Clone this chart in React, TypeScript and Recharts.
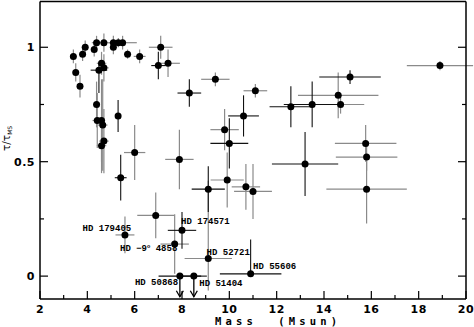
import React from 'react';
import { ScatterChart, Scatter, XAxis, YAxis, ErrorBar, ReferenceLine } from 'recharts';

// Stars whose error bars are drawn in black
const blackMass = [4.49, 5.30, 5.41, 7.00, 8.31, 10.60, 10.00, 12.60, 13.50, 15.10, 13.20, 9.11, 8.00, 10.90];
const blackTau = [0.90, 0.70, 0.43, 0.92, 0.80, 0.70, 0.58, 0.74, 0.75, 0.87, 0.49, 0.38, 0.20, 0.01];
const blackMassErr = [0.35, 0.10, 0.25, 0.30, 0.50, 0.65, 0.80, 0.90, 1.20, 1.30, 1.40, 0.70, 0.60, 1.30];
const blackTauErr: (number | number[])[] = [[0.10, 0.03], 0.07, 0.10, 0.06, 0.06, 0.09, 0.11, 0.09, 0.10, 0.03, 0.14, 0.10, 0.08, [0, 0.15]];

// Stars whose error bars are drawn in grey
const grayMass = [3.41, 3.51, 3.69, 3.80, 3.91, 4.29, 4.39, 4.70, 5.10, 5.31, 5.49, 5.10, 5.70, 6.21, 4.60, 4.70, 4.39, 4.42, 4.60, 4.65, 4.70, 4.60, 6.00, 7.89, 7.10, 7.41, 9.41, 11.10, 9.80, 14.70, 14.60, 18.90, 15.76, 15.80, 15.80, 9.91, 10.70, 11.00, 6.89, 7.69, 5.59, 9.11];
const grayTau = [0.96, 0.89, 0.83, 0.97, 1.00, 0.99, 1.02, 1.02, 1.02, 1.02, 1.02, 1.00, 0.97, 0.96, 0.93, 0.91, 0.75, 0.68, 0.68, 0.66, 0.59, 0.57, 0.54, 0.51, 1.00, 0.93, 0.86, 0.81, 0.64, 0.75, 0.79, 0.92, 0.58, 0.52, 0.38, 0.42, 0.39, 0.37, 0.265, 0.14, 0.18, 0.077];
const grayMassErr = [0.12, 0.10, 0.10, 0.10, 0.12, 0.10, 0.20, 0.20, 0.20, 0.15, 0.60, 0.10, 0.15, 0.25, 0.20, 0.20, 0.10, 0.20, 0.15, 0.20, 0.20, 0.20, 0.45, 0.60, 0.50, 0.50, 0.60, 0.50, 0.60, 1.00, 1.70, 1.40, 1.30, 1.30, 1.70, 0.70, 0.60, 0.80, 0.78, 0.60, 0.40, 1.00];
const grayTauErr: (number | number[])[] = [0.03, 0.04, 0.05, 0.03, 0.03, 0.03, 0.03, 0.04, 0.03, 0.02, 0.03, 0.03, 0.02, 0.03, 0.05, 0.06, 0.10, 0.12, 0.18, 0.20, 0.14, 0.12, 0.12, 0.13, 0.05, 0.06, 0.03, 0.03, 0.09, 0.04, 0.10, 0.02, 0.08, 0.06, 0.15, 0.12, 0.10, 0.12, 0.10, 0.13, 0.08, [0.14, 0.34]];

// Upper limits (arrows)
const limitMass = [7.91, 8.50];
const limitTau = [0.0, 0.0];
const limitMassErr = [0.90, 0.55];
const limitArrowLength = 0.09;

// Star name annotations
const labelNames = ['HD 179405', 'HD \u22129\u00B0 4858', 'HD 174571', 'HD 52721', 'HD 50868', 'HD 51404', 'HD 55606'];
const labelMass = [3.80, 5.38, 7.96, 9.04, 6.01, 8.73, 11.0];
const labelTau = [0.206, 0.117, 0.237, 0.103, -0.032, -0.035, 0.039];

// Axes
const xTicks = [2, 3, 4, 5, 6, 7, 8, 9, 10, 11, 12, 13, 14, 15, 16, 17, 18, 19, 20];
const xMajor = [2, 4, 6, 8, 10, 12, 14, 16, 18, 20];
const yTicks = [0, 0.25, 0.5, 0.75, 1];
const yMajor = [0, 0.5, 1];
const xDomain = [2, 20];
const yDomain = [-0.1, 1.2];

const build = (m: number[], t: number[], em: number[], et: (number | number[])[]) =>
  m.map((x, i) => ({ x, y: t[i], ex: em[i], ey: et[i] }));

const blackData = build(blackMass, blackTau, blackMassErr, blackTauErr);
const grayData = build(grayMass, grayTau, grayMassErr, grayTauErr);
const limitData = limitMass.map((x, i) => ({ x, y: limitTau[i], ex: limitMassErr[i] }));
const labelData = labelNames.map((name, i) => ({ x: labelMass[i], y: labelTau[i], name }));

const TICK_FONT = 'DejaVu Sans, sans-serif';
const MAJOR = 8;
const MINOR = 4;

const BottomTick = (p: any) => {
  const major = xMajor.includes(p.payload.value);
  return (
    <g>
      <line x1={p.x} x2={p.x} y1={p.y} y2={p.y - (major ? MAJOR : MINOR)} stroke="#000" strokeWidth={1.2} />
      {major && (
        <text x={p.x} y={p.y + 13.5} textAnchor="middle" fontFamily={TICK_FONT} fontWeight="bold" fontSize={11} letterSpacing={0.5} fill="#000">
          {p.payload.value}
        </text>
      )}
    </g>
  );
};

const TopTick = (p: any) => {
  const major = xMajor.includes(p.payload.value);
  return <line x1={p.x} x2={p.x} y1={p.y} y2={p.y + (major ? MAJOR : MINOR)} stroke="#000" strokeWidth={1.2} />;
};

const LeftTick = (p: any) => {
  const major = yMajor.includes(p.payload.value);
  return (
    <g>
      <line x1={p.x} x2={p.x + (major ? MAJOR : MINOR)} y1={p.y} y2={p.y} stroke="#000" strokeWidth={1.2} />
      {major && (
        <text x={p.x - 5} y={p.y + 4} textAnchor="end" fontFamily={TICK_FONT} fontWeight="bold" fontSize={11} letterSpacing={0.5} fill="#000">
          {p.payload.value}
        </text>
      )}
    </g>
  );
};

const RightTick = (p: any) => {
  const major = yMajor.includes(p.payload.value);
  return <line x1={p.x} x2={p.x - (major ? MAJOR : MINOR)} y1={p.y} y2={p.y} stroke="#000" strokeWidth={1.2} />;
};

const XTitle = (p: any) => {
  const vb = p.viewBox || { x: 40, y: 299, width: 426, height: 28 };
  return (
    <text x={vb.x + 175} y={vb.y + 26} textAnchor="start" fontFamily="DejaVu Sans Mono, monospace" fontWeight="bold" fontSize={10.5} letterSpacing={4.2} fill="#000" style={{ whiteSpace: 'pre' }}>
      {'Mass  (Msun)'}
    </text>
  );
};

const YTitle = () => {
  const cx = 10;
  const cy = 151;
  return (
    <text x={cx} y={cy} transform={`rotate(-90, ${cx}, ${cy})`} textAnchor="start" fontFamily="DejaVu Sans, sans-serif" fontSize={10.5} fill="#000">
      {'\u03C4/\u03C4'}
      <tspan fontSize={6} dy={2}>MS</tspan>
    </text>
  );
};

const Dot = (p: any) => <circle cx={p.cx} cy={p.cy} r={3.5} fill="#000" />;

const LabelShape = (p: any) => {
  const parts = String(p.payload.name).split('\u00B0');
  return (
    <text x={p.cx} y={p.cy} dominantBaseline="central" textAnchor="start" fontFamily="Liberation Mono, monospace" fontWeight="bold" fontSize={9} fill="#000" style={{ whiteSpace: 'pre' }}>
      {parts[0]}
      {parts.length > 1 && (
        <>
          <tspan fontSize={5.5} dy={-3}>o</tspan>
          <tspan dy={3}>{parts[1]}</tspan>
        </>
      )}
    </text>
  );
};

const Arrow = (p: any) => {
  const { x1, y1, x2, y2 } = p;
  if (x1 == null) return <g />;
  return (
    <g>
      <line x1={x1} y1={y1} x2={x2} y2={y2} stroke="#000" strokeWidth={1.3} />
      <path d={`M ${x2 - 3.5} ${y2 - 6} L ${x2} ${y2} L ${x2 + 3.5} ${y2 - 6}`} fill="none" stroke="#000" strokeWidth={1.3} />
    </g>
  );
};

const GRAY = '#8a8a8a';
const BLACK = '#111';

export default function App() {
  return (
    <div style={{ position: 'absolute', left: 0, top: 0 }}>
      <ScatterChart width={474} height={327} margin={{ top: 0.5, right: 7, bottom: 0, left: 0 }}>
        <XAxis
          xAxisId="b"
          type="number"
          dataKey="x"
          orientation="bottom"
          domain={xDomain}
          ticks={xTicks}
          interval={0}
          allowDataOverflow
          height={28}
          tickSize={0}
          tickMargin={0}
          tickLine={false}
          tick={<BottomTick />}
          axisLine={{ stroke: '#000', strokeWidth: 1.5 }}
          label={<XTitle />}
        />
        <XAxis
          xAxisId="t"
          type="number"
          orientation="top"
          domain={xDomain}
          ticks={xTicks}
          interval={0}
          allowDataOverflow
          height={1}
          tickSize={0}
          tickMargin={0}
          tickLine={false}
          tick={<TopTick />}
          axisLine={{ stroke: '#000', strokeWidth: 1.5 }}
        />
        <YAxis
          yAxisId="l"
          type="number"
          dataKey="y"
          orientation="left"
          domain={yDomain}
          ticks={yTicks}
          interval={0}
          allowDataOverflow
          width={40}
          tickSize={0}
          tickMargin={0}
          tickLine={false}
          tick={<LeftTick />}
          axisLine={{ stroke: '#000', strokeWidth: 1.5 }}
          label={<YTitle />}
        />
        <YAxis
          yAxisId="r"
          type="number"
          orientation="right"
          domain={yDomain}
          ticks={yTicks}
          interval={0}
          allowDataOverflow
          width={1}
          tickSize={0}
          tickMargin={0}
          tickLine={false}
          tick={<RightTick />}
          axisLine={{ stroke: '#000', strokeWidth: 1.5 }}
        />
        <Scatter xAxisId="b" yAxisId="l" data={grayData} dataKey="y" shape={<Dot />} isAnimationActive={false}>
          <ErrorBar dataKey="ex" direction="x" width={0} stroke={GRAY} strokeWidth={1.2} isAnimationActive={false} />
          <ErrorBar dataKey="ey" direction="y" width={0} stroke={GRAY} strokeWidth={1.2} isAnimationActive={false} />
        </Scatter>
        <Scatter xAxisId="b" yAxisId="l" data={blackData} dataKey="y" shape={<Dot />} isAnimationActive={false}>
          <ErrorBar dataKey="ex" direction="x" width={0} stroke={BLACK} strokeWidth={1.1} isAnimationActive={false} />
          <ErrorBar dataKey="ey" direction="y" width={0} stroke={BLACK} strokeWidth={1.1} isAnimationActive={false} />
        </Scatter>
        <Scatter xAxisId="b" yAxisId="l" data={limitData} dataKey="y" shape={<Dot />} isAnimationActive={false}>
          <ErrorBar dataKey="ex" direction="x" width={0} stroke={BLACK} strokeWidth={1.1} isAnimationActive={false} />
        </Scatter>
        {limitData.map((d, i) => (
          <ReferenceLine
            key={i}
            xAxisId="b"
            yAxisId="l"
            segment={[{ x: d.x, y: d.y }, { x: d.x, y: d.y - limitArrowLength }]}
            shape={(p: any) => <Arrow {...p} />}
          />
        ))}
        <Scatter xAxisId="b" yAxisId="l" data={labelData} dataKey="y" shape={<LabelShape />} isAnimationActive={false} />
      </ScatterChart>
    </div>
  );
}
